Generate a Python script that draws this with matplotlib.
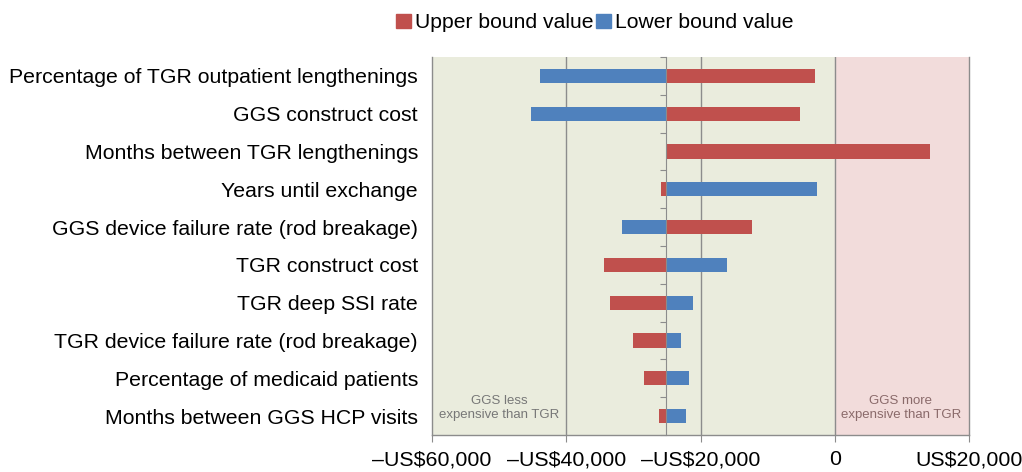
import numpy as np
import matplotlib.pyplot as plt
from matplotlib.patches import Patch
from matplotlib.ticker import FuncFormatter

plt.rcParams['font.family'] = ['Liberation Sans', 'DejaVu Sans']

# tornado data (US$), baseline = base case incremental cost
base = -25200
params = ["Percentage of TGR outpatient lengthenings",
          "GGS construct cost",
          "Months between TGR lengthenings",
          "Years until exchange",
          "GGS device failure rate (rod breakage)",
          "TGR construct cost",
          "TGR deep SSI rate",
          "TGR device failure rate (rod breakage)",
          "Percentage of medicaid patients",
          "Months between GGS HCP visits"]
upper_vals = [-2970, -5160, 14170, -25870, -12400, -34370, -33470, -30040, -28400, -26170]
lower_vals = [-43850, -45190, -25200, -2630, -31690, -16130, -21150, -22940, -21740, -22190]
xticks = [-60000, -40000, -20000, 0, 20000]

red = '#C0504D'
blue = '#4F81BD'
grey = '#8c8c8c'

fig = plt.figure(figsize=(10.22, 4.72), dpi=100)
ax = fig.add_axes([0.4227, 0.0784, 0.5257, 0.8008])

ax.axvspan(-60000, 0, color='#EAECDD', zorder=0)
ax.axvspan(0, 20000, color='#F2DCDB', zorder=0)
for x in [-40000, -20000, 0]:
    ax.axvline(x, color=grey, lw=1, zorder=1)

y = np.arange(len(params))
h = 0.38
ax.barh(y, np.array(upper_vals) - base, left=base, height=h, color=red, zorder=3)
ax.barh(y, np.array(lower_vals) - base, left=base, height=h, color=blue, zorder=3)

ax.set_xlim(-60000, 20000)
ax.set_ylim(len(params) - 0.5, -0.5)
ax.set_xticks(xticks)
ax.xaxis.set_major_formatter(FuncFormatter(
    lambda v, p: '0' if v == 0 else ('–US$' if v < 0 else 'US$') + f'{abs(int(v)):,}'))
ax.tick_params(axis='x', length=5, color=grey, labelsize=15.4, pad=6)

ax.set_yticks(y)
ax.set_yticklabels(params)
ax.tick_params(axis='y', length=0, labelsize=15.3, pad=10)

ax.spines['top'].set_visible(False)
for s in ['left', 'right', 'bottom']:
    ax.spines[s].set_color(grey)
    ax.spines[s].set_linewidth(1)

# baseline axis with category separators
ax2 = ax.twinx()
ax2.set_ylim(ax.get_ylim())
for s in ['top', 'right', 'bottom']:
    ax2.spines[s].set_visible(False)
ax2.spines['left'].set_position(('data', base))
ax2.spines['left'].set_color(grey)
ax2.yaxis.set_ticks_position('left')
ax2.set_yticks(np.arange(len(params) + 1) - 0.5)
ax2.set_yticklabels([])
ax2.tick_params(axis='y', length=4, color=grey, direction='out')
ax2.set_zorder(ax.get_zorder() + 1)
ax2.patch.set_visible(False)

ax.text(-50000, 8.79, 'GGS less\nexpensive than TGR', ha='center', va='center',
        fontsize=9.5, color='#777777', linespacing=1.25, zorder=4)
ax.text(9800, 8.79, 'GGS more\nexpensive than TGR', ha='center', va='center',
        fontsize=9.5, color='#8a6a6a', linespacing=1.25, zorder=4)

handles = [Patch(color=red, label='Upper bound value'),
           Patch(color=blue, label='Lower bound value')]
fig.legend(handles=handles, loc='upper center', bbox_to_anchor=(0.582, 1.012), ncol=2,
           frameon=False, fontsize=15.2, handlelength=0.7, handleheight=0.7,
           handletextpad=0.2, columnspacing=0.1)

fig.savefig('out.png', dpi=100)
